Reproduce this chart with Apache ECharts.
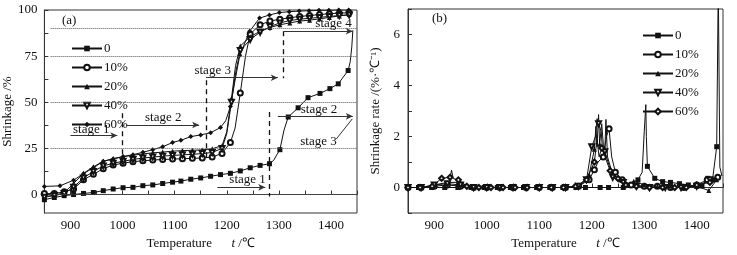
<!DOCTYPE html>
<html>
<head>
<meta charset="utf-8">
<script src="https://cdn.jsdelivr.net/npm/echarts@6/dist/echarts.min.js"></script>
<style>
  html, body { margin: 0; background: #fff; }
  #chart { width: 737px; height: 255px; }
</style>
</head>
<body>
<div id="chart"></div>
<script>
// 样品名称
const names = ["0", "10%", "20%", "40%", "60%"];

// (a) 收缩率 [温度, %]，marked 带符号，fine 仅连线
const shr0 = [[850,-2.8],[869,-1.6],[888,-0.6],[906,0],[925,0.6],[944,1.1],[963,2.1],[982,3],[1001,3.7],[1020,3.9],[1039,4.8],[1058,5.2],[1077,6],[1096,6.7],[1112,7.3],[1131,8.3],[1150,9],[1169,9.9],[1188,10.8],[1207,11.5],[1226,12.8],[1245,14.5],[1264,15.8],[1282,16.7],[1302,24.3],[1318,42],[1337,47],[1356,52.5],[1379,54.8],[1398,57.4],[1414,60],[1433,67.2]];
const shr0Fine = [[1290,18.5],[1296,21.5],[1310,35],[1437,72],[1440,80],[1442,89]];
const shr10 = [[850,0.5],[869,0.5],[888,1.5],[906,3],[925,8],[944,11],[963,14],[982,16],[1001,17],[1020,17.8],[1039,18.3],[1058,18.7],[1077,19],[1096,19.2],[1115,19.4],[1134,19.6],[1153,19.8],[1172,20.3],[1191,22.3],[1207,28.2],[1226,55],[1245,87],[1264,92],[1283,94],[1302,95],[1321,95.8],[1340,96.5],[1359,97],[1378,97.5],[1397,98],[1416,98.3],[1435,98.5]];
const shr10Fine = [[1216,36],[1236,75]];
const shr20 = [[850,-1],[869,-0.5],[888,1],[906,6],[925,11.5],[944,15],[963,18],[982,19.5],[1001,20.5],[1020,21.3],[1039,22],[1058,22.6],[1077,23],[1096,23.5],[1115,23.8],[1134,24],[1153,24.2],[1172,24.8],[1191,26.5],[1209,52],[1226,80.5],[1245,85.5],[1264,88.5],[1283,90.5],[1302,92],[1321,93],[1340,94],[1359,94.5],[1378,95.2],[1397,96],[1416,96.8],[1435,97.5]];
const shr20Fine = [[1200,34],[1217,70]];
const shr40 = [[850,-1.5],[869,-0.5],[888,0.5],[906,4],[925,9],[944,12.5],[963,15.5],[982,17],[1001,18],[1020,19],[1039,19.8],[1058,20.3],[1077,20.8],[1096,21.2],[1115,21.5],[1134,21.8],[1153,22.2],[1172,22.8],[1191,25],[1209,50],[1226,78],[1245,84],[1264,88],[1283,91],[1302,93],[1321,94.3],[1340,95],[1359,95.5],[1378,96],[1397,96.5],[1416,97],[1435,97.3]];
const shr40Fine = [[1200,33],[1217,66]];
const shr60 = [[850,4.4],[880,4.7],[906,7.8],[925,11.3],[944,14.5],[963,18],[982,19.3],[1001,20.6],[1020,21.6],[1039,22.9],[1058,24.3],[1077,25.9],[1096,28.2],[1112,29.4],[1131,31.4],[1150,32.3],[1169,33.5],[1188,36.3],[1207,47.7],[1225,75.5],[1244,88.5],[1263,95.6],[1282,97.3],[1301,98.6],[1320,99.1],[1339,99.4],[1358,99.6],[1377,99.8],[1396,99.9],[1415,100],[1434,100]];
const shr60Fine = [[1198,40],[1216,62]];

// (b) 收缩速率 [温度, %/℃]
const rate0 = [[850,0],[870,0],[895,0],[920,0],[945,0],[970,0],[995,0],[1020,0],[1045,0],[1070,0],[1095,0],[1120,0],[1145,0],[1170,0],[1188,0],[1216,0],[1232,0],[1260,0],[1288,0.3],[1306,0.83],[1320,0.36],[1335,0.23],[1350,0.2],[1367,0.15],[1384,0.1],[1400,0.05],[1410,0.06],[1421,0.36],[1430,0.3],[1438,1.6]];
const rate0Fine = [[1296,0.6],[1300,2.2],[1303,3.25],[1304,2.0],[1441,8],[1444,0.8],[1448,0.45]];
const rate10 = [[850,0],[875,0],[900,0.05],[925,0.1],[950,0.05],[975,0],[1000,0],[1025,0],[1050,0],[1075,0],[1100,0],[1125,0],[1150,0],[1175,0.05],[1195,0.3],[1205,0.7],[1222,1.2],[1233,2.3],[1245,0.6],[1258,0.3],[1275,0.1],[1300,0.05],[1325,0.05],[1350,0],[1375,0],[1400,0.1],[1420,0.3],[1440,0.4]];
const rate10Fine = [[1212,1.0],[1228,2.0],[1238,1.2]];
const rate20 = [[850,0],[875,0],[900,0.1],[925,0.2],[945,0.2],[970,0.05],[1000,0],[1025,0],[1050,0],[1075,0],[1100,0],[1125,0],[1150,0],[1175,0.05],[1195,0.5],[1205,1.5],[1215,1.7],[1225,1.5],[1240,0.5],[1255,0.3],[1270,0.1],[1280,0.25],[1300,0.1],[1325,0.05],[1350,0.05],[1375,0],[1400,0.05],[1423,-0.12],[1438,0.3]];
const rate20Fine = [[1208,2.4],[1210,1.6],[1213,2.86],[1216,1.9],[1219,2.5],[1222,1.7],[1227,2.67],[1230,1.2]];
const rate40 = [[850,0],[875,0],[900,0.1],[925,0.15],[950,0.1],[975,0],[1000,0],[1025,0],[1050,0],[1075,0],[1100,0],[1125,0],[1150,0],[1175,0.05],[1190,0.3],[1200,1.6],[1213,2.5],[1225,1.4],[1240,0.4],[1260,0.2],[1285,0.05],[1310,0],[1340,0],[1370,0],[1400,0.05],[1425,0.3]];
const rate40Fine = [[1207,2.0],[1210,2.7],[1218,2.2],[1220,1.6]];
const rate60 = [[850,0],[873,0],[896,0.05],[914,0.36],[930,0.4],[946,0.3],[962,0.05],[985,0],[1008,0],[1031,0],[1054,0],[1077,0],[1100,0],[1123,0],[1146,0],[1169,0.05],[1190,0.3],[1205,1.0],[1219,1.55],[1235,0.66],[1250,0.35],[1265,0.1],[1285,0.05],[1310,0],[1335,0],[1358,0],[1380,0],[1400,0.1],[1425,0.2]];
const rate60Fine = [[933,0.68],[936,0.35],[1210,1.9],[1214,1.2]];

// 阶段标注
const guideY = [0, 25, 50, 75, 90];
const stageDash = [[1000,44,15],[1160,62,18],[1308,88.5,63],[1282,44.7,-1]]; // x, 上, 下
const stageArrow = [[900,990,32],[1007,1147,37.7],[1160,1298,63.3],[1308,1442,88.5],[1182,1274,3.9],[1298,1442,42.4]]; // x0, x1, y
const stageText = [["stage 1",940,35],["stage 2",1078,41.5],["stage 3",1173,67],["stage 4",1405,92.5],["stage 1",1240,8],["stage 2",1377,45.8],["stage 3",1376,28.7]];

const serif = "Liberation Serif, Times New Roman, serif";
const ink = "#111";

function build(marked, fine) {
  const pts = marked.map((p) => ({ value: p }))
    .concat(fine.map((p) => ({ value: p, symbol: "none" })));
  pts.sort((a, b) => a.value[0] - b.value[0]);
  return pts;
}

const symA = ["rect", "emptyCircle", "triangle", "emptyTriangle", "diamond"];
const symB = ["rect", "emptyCircle", "triangle", "emptyTriangle", "emptyDiamond"];
const dataA = [build(shr0, shr0Fine), build(shr10, shr10Fine), build(shr20, shr20Fine), build(shr40, shr40Fine), build(shr60, shr60Fine)];
const dataB = [build(rate0, rate0Fine), build(rate10, rate10Fine), build(rate20, rate20Fine), build(rate40, rate40Fine), build(rate60, rate60Fine)];

function xAxis(idx) {
  return {
    type: "value",
    gridIndex: idx,
    min: 850,
    max: 1450,
    interval: 50,
    name: "Temperature      {i|t} /℃",
    nameLocation: "middle",
    nameGap: 24,
    nameTextStyle: { color: ink, fontFamily: serif, fontSize: 13, rich: { i: { fontStyle: "italic", fontFamily: serif, fontSize: 13 } } },
    axisLine: { lineStyle: { color: "#333" } },
    axisTick: { inside: true, length: 4, lineStyle: { color: "#333" } },
    axisLabel: {
      color: ink, fontFamily: serif, fontSize: 13, margin: 6,
      formatter: (v) => (v % 100 === 0 && v > 850 && v < 1450 ? v : ""),
    },
    splitLine: { show: false },
  };
}

const series = [];
names.forEach((n, i) => {
  series.push({
    name: n,
    type: "line",
    xAxisIndex: 0,
    yAxisIndex: 0,
    data: dataA[i],
    symbol: symA[i],
    symbolSize: 5,
    symbolRotate: i === 3 ? 180 : 0,
    color: ink,
    lineStyle: { width: 1, color: ink },
    itemStyle: { color: ink, borderWidth: 1 },
    animation: false,
  });
});
names.forEach((n, i) => {
  series.push({
    name: n + " ",
    type: "line",
    xAxisIndex: 1,
    yAxisIndex: 1,
    data: dataB[i],
    symbol: symB[i],
    symbolSize: 5,
    symbolRotate: i === 3 ? 180 : 0,
    color: ink,
    lineStyle: { width: 1, color: ink },
    itemStyle: { color: ink, borderWidth: 1 },
    animation: false,
  });
});

// 标注线和文字挂在一个空系列上
const markLines = [];
guideY.forEach((y) => {
  markLines.push([
    { coord: [862, y], lineStyle: { type: "dotted", color: "#555", width: 1 } },
    { coord: [1450, y] },
  ]);
});
stageDash.forEach((d) => {
  markLines.push([
    { coord: [d[0], d[1]], lineStyle: { type: [5, 4], color: ink, width: 1.3 } },
    { coord: [d[0], d[2]] },
  ]);
});
stageArrow.forEach((a) => {
  markLines.push([
    { coord: [a[0], a[2]], symbol: "none", lineStyle: { type: "solid", color: "#333", width: 1 } },
    { coord: [a[1], a[2]], symbol: "arrow", symbolSize: [5, 7] },
  ]);
});
markLines.push([
  { coord: [1410, 30], lineStyle: { type: "solid", color: "#333", width: 1 } },
  { coord: [1441, 41] },
]);

series.push({
  name: "annot",
  type: "line",
  xAxisIndex: 0,
  yAxisIndex: 0,
  data: [],
  animation: false,
  markLine: {
    silent: true,
    symbol: ["none", "none"],
    label: { show: false },
    animation: false,
    data: markLines,
  },
  markPoint: {
    silent: true,
    symbol: "rect",
    symbolSize: 1,
    itemStyle: { color: "rgba(0,0,0,0)" },
    animation: false,
    label: { show: true, position: "inside", color: ink, fontFamily: serif, fontSize: 13, formatter: "{b}" },
    data: stageText.map((t) => ({ name: t[0], coord: [t[1], t[2]] })),
  },
});

const legendBase = {
  orient: "vertical",
  itemWidth: 30,
  itemHeight: 7,
  itemGap: 6,
  textStyle: { color: ink, fontFamily: serif, fontSize: 13, padding: [0, 0, 0, -3] },
  formatter: (n) => n.trim(),
  selectedMode: false,
};

const option = {
  backgroundColor: "#fff",
  animation: false,
  grid: [
    { left: 42, right: 380, top: 10, bottom: 38, show: true, borderColor: "#333", borderWidth: 1 },
    { left: 408, right: 14, top: 9, bottom: 38, show: true, borderColor: "#333", borderWidth: 1 },
  ],
  legend: [
    Object.assign({ left: 66, top: 37, data: names }, legendBase),
    Object.assign({ left: 637, top: 24, data: names.map((n) => n + " ") }, legendBase),
  ],
  graphic: [
    { type: "text", left: 62, top: 14, style: { text: "(a)", font: "13px " + serif, fill: ink } },
    { type: "text", left: 432, top: 12, style: { text: "(b)", font: "13px " + serif, fill: ink } },
  ],
  xAxis: [xAxis(0), xAxis(1)],
  yAxis: [
    {
      type: "value",
      gridIndex: 0,
      min: -10,
      max: 100,
      name: "Shrinkage /%",
      nameLocation: "middle",
      nameGap: 30,
      nameTextStyle: { color: ink, fontFamily: serif, fontSize: 13 },
      axisLine: { lineStyle: { color: "#333" } },
      axisTick: { inside: true, length: 4, customValues: [0, 12.5, 25, 37.5, 50, 62.5, 75, 87.5, 100], lineStyle: { color: "#333" } },
      axisLabel: { color: ink, fontFamily: serif, fontSize: 13, margin: 7, customValues: [0, 25, 50, 75, 100] },
      splitLine: { show: false },
    },
    {
      type: "value",
      gridIndex: 1,
      min: -1,
      max: 7,
      interval: 1,
      name: "Shrinkage rate /(%·℃⁻¹)",
      nameLocation: "middle",
      nameGap: 26,
      nameTextStyle: { color: ink, fontFamily: serif, fontSize: 13 },
      axisLine: { lineStyle: { color: "#333" } },
      axisTick: { inside: true, length: 4, lineStyle: { color: "#333" } },
      axisLabel: {
        color: ink, fontFamily: serif, fontSize: 13, margin: 8,
        formatter: (v) => (v >= 0 && v % 2 === 0 ? v : ""),
      },
      splitLine: { show: false },
    },
  ],
  series: series,
};

const chart = echarts.init(document.getElementById("chart"));
chart.setOption(option);
window.addEventListener("resize", () => chart.resize());
</script>
</body>
</html>
